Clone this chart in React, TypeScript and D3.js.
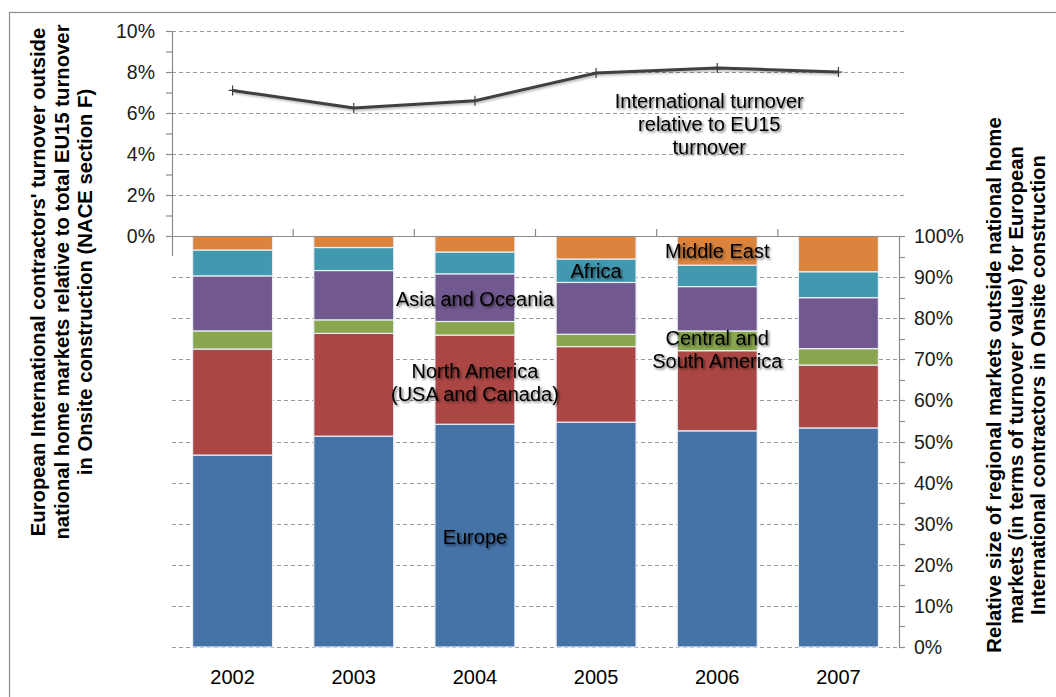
import React, { useEffect, useRef } from 'react';
import * as d3 from 'd3';

// Years on the category axis
const YEARS = ['2002', '2003', '2004', '2005', '2006', '2007'];

// International turnover relative to EU15 turnover (%), left axis
const INTL_SHARE = [7.1, 6.25, 6.6, 7.95, 8.2, 8.0];

// Regional shares (%), right axis, stacked bottom-up
const EUROPE = [46.7, 51.3, 54.2, 54.7, 52.6, 53.3];
const NORTH_AMERICA = [25.8, 25.0, 21.7, 18.4, 19.5, 15.3];
const CENTRAL_SOUTH_AMERICA = [4.4, 3.3, 3.3, 3.0, 4.8, 4.0];
const ASIA_OCEANIA = [13.4, 12.0, 11.6, 12.6, 10.8, 12.4];
const AFRICA = [6.3, 5.6, 5.3, 5.7, 5.2, 6.3];
const MIDDLE_EAST = [3.4, 2.8, 3.9, 5.6, 7.1, 8.7];

const REGIONS = ['Europe', 'North America', 'Central and South America', 'Asia and Oceania', 'Africa', 'Middle East'];
const REGION_VALUES = [EUROPE, NORTH_AMERICA, CENTRAL_SOUTH_AMERICA, ASIA_OCEANIA, AFRICA, MIDDLE_EAST];
const REGION_COLORS = ['#4572A7', '#AA4643', '#89A54E', '#71588F', '#4198AF', '#DB843D'];

const LEFT_TICKS = [0, 2, 4, 6, 8, 10];
const RIGHT_TICKS = [0, 10, 20, 30, 40, 50, 60, 70, 80, 90, 100];

const LEFT_TITLE = [
  "European International contractors' turnover outside",
  'national home markets relative to total EU15 turnover',
  'in Onsite construction (NACE section F)',
];
const RIGHT_TITLE = [
  'Relative size of regional markets outside national home',
  'markets (in terms of turnover value) for European',
  'International contractors in Onsite construction',
];

// in-chart labels: year column, value on the axis, lines
const ANNOTATIONS = [
  { year: '2004', axis: 'right', value: 26.8, dx: 0, lines: ['Europe'] },
  { year: '2004', axis: 'right', value: 64.4, dx: 0, lines: ['North America', '(USA and Canada)'] },
  { year: '2004', axis: 'right', value: 84.7, dx: 0, lines: ['Asia and Oceania'] },
  { year: '2005', axis: 'right', value: 91.5, dx: 0, lines: ['Africa'] },
  { year: '2006', axis: 'right', value: 96.4, dx: 0, lines: ['Middle East'] },
  { year: '2006', axis: 'right', value: 72.5, dx: 0, lines: ['Central and', 'South America'] },
  { year: '2006', axis: 'left', value: 5.45, dx: -8, lines: ['International turnover', 'relative to EU15', 'turnover'] },
];

const W = 1056;
const H = 697;
const FONT = '"Liberation Sans", Arial, sans-serif';

export default function App() {
  const svgRef = useRef<SVGSVGElement>(null);

  useEffect(() => {
    if (!svgRef.current) return;
    const svg = d3.select(svgRef.current);
    svg.selectAll('*').remove();

    const left = 172, right = 899;
    const x = d3.scaleBand<string>().domain(YEARS).range([left, right]).paddingInner(0.34).paddingOuter(0.17);
    const step = x.step();
    const yL = d3.scaleLinear().domain([0, 10]).range([236, 31]);
    const yR = d3.scaleLinear().domain([0, 100]).range([647, 236]);

    const defs = svg.append('defs');
    const f = defs.append('filter').attr('id', 'shadow').attr('x', '-20%').attr('y', '-40%').attr('width', '140%').attr('height', '180%');
    f.append('feDropShadow').attr('dx', 1.5).attr('dy', 1.5).attr('stdDeviation', 1.3)
      .attr('flood-color', '#000').attr('flood-opacity', 0.6);
    const fl = defs.append('filter').attr('id', 'lineShadow').attr('x', '-10%').attr('y', '-50%').attr('width', '120%').attr('height', '200%');
    fl.append('feDropShadow').attr('dx', 1.5).attr('dy', 1.5).attr('stdDeviation', 1.2)
      .attr('flood-color', '#000').attr('flood-opacity', 0.3);

    svg.append('rect').attr('width', W).attr('height', H).attr('fill', '#fff');
    // outer frame
    svg.append('rect').attr('x', 9.5).attr('y', 12.5).attr('width', 1200).attr('height', 900)
      .attr('fill', 'none').attr('stroke', '#8c8c8c').attr('stroke-width', 1.2);

    const grid = svg.append('g').attr('stroke', '#9a9a9a').attr('stroke-width', 1).attr('stroke-dasharray', '4,3');
    LEFT_TICKS.filter(d => d > 0).forEach(d => {
      grid.append('line').attr('x1', left).attr('x2', right + 8).attr('y1', yL(d) + 0.5).attr('y2', yL(d) + 0.5);
    });
    RIGHT_TICKS.filter(d => d < 100).forEach(d => {
      grid.append('line').attr('x1', left).attr('x2', right).attr('y1', Math.round(yR(d)) + 0.5).attr('y2', Math.round(yR(d)) + 0.5);
    });

    // stacked bars
    const rows = YEARS.map((year, i) => {
      const r: Record<string, any> = { year };
      REGIONS.forEach((k, j) => { r[k] = REGION_VALUES[j][i]; });
      return r;
    });
    const series = d3.stack<any>().keys(REGIONS)(rows);
    series.forEach((s, j) => {
      svg.append('g').selectAll('rect').data(s).join('rect')
        .attr('x', d => x(d.data.year)!)
        .attr('width', x.bandwidth())
        .attr('y', d => yR(d[1]))
        .attr('height', d => yR(d[0]) - yR(d[1]))
        .attr('fill', REGION_COLORS[j])
        .attr('stroke', '#e9eef5').attr('stroke-width', 1.2);
    });

    const axisColor = '#8c8c8c';
    const ax = svg.append('g').attr('stroke', axisColor).attr('stroke-width', 1.2);
    // left axis
    ax.append('line').attr('x1', left + 0.5).attr('x2', left + 0.5).attr('y1', yL(10)).attr('y2', 256);
    d3.range(0, 10.5, 1).forEach(d => {
      ax.append('line').attr('x1', left - 6).attr('x2', left).attr('y1', yL(d) + 0.5).attr('y2', yL(d) + 0.5);
    });
    // top chart category axis (0%)
    ax.append('line').attr('x1', left - 6).attr('x2', right + 6).attr('y1', yL(0) + 0.5).attr('y2', yL(0) + 0.5);
    YEARS.slice(1).forEach(yr => {
      const bx = x(yr)! - (step - x.bandwidth()) / 2;
      ax.append('line').attr('x1', bx).attr('x2', bx).attr('y1', yL(0)).attr('y2', yL(0) - 7);
    });
    // right axis
    ax.append('line').attr('x1', right + 0.5).attr('x2', right + 0.5).attr('y1', yR(100)).attr('y2', yR(0));
    d3.range(0, 100.5, 5).forEach(d => {
      ax.append('line').attr('x1', right).attr('x2', right + 6).attr('y1', Math.round(yR(d)) + 0.5).attr('y2', Math.round(yR(d)) + 0.5);
    });

    // tick labels
    svg.append('g').selectAll('text').data(LEFT_TICKS).join('text')
      .attr('x', 155).attr('y', d => yL(d)).attr('dy', '0.36em').attr('text-anchor', 'end')
      .attr('font-family', FONT).attr('font-size', 19.5).attr('fill', '#1a1a1a').text(d => `${d}%`);
    svg.append('g').selectAll('text').data(RIGHT_TICKS).join('text')
      .attr('x', 914).attr('y', d => yR(d)).attr('dy', '0.36em').attr('text-anchor', 'start')
      .attr('font-family', FONT).attr('font-size', 19.5).attr('fill', '#1a1a1a').text(d => `${d}%`);
    svg.append('g').selectAll('text').data(YEARS).join('text')
      .attr('x', d => x(d)! + x.bandwidth() / 2).attr('y', 677).attr('dy', '0.36em').attr('text-anchor', 'middle')
      .attr('font-family', FONT).attr('font-size', 20).attr('fill', '#000').text(d => d);

    // line series
    const cx = (yr: string) => x(yr)! + x.bandwidth() / 2;
    const line = d3.line<number>().x((_, i) => cx(YEARS[i])).y(d => yL(d));
    svg.append('path').datum(INTL_SHARE).attr('d', line).attr('fill', 'none')
      .attr('stroke', '#3f3f3f').attr('stroke-width', 3).attr('filter', 'url(#lineShadow)');
    svg.append('g').selectAll('path').data(INTL_SHARE).join('path')
      .attr('transform', (d, i) => `translate(${cx(YEARS[i])},${yL(d)})`)
      .attr('d', 'M-4,0H4M0,-5V5').attr('stroke', '#3f3f3f').attr('stroke-width', 1.2).attr('fill', 'none');

    // in-chart labels
    ANNOTATIONS.forEach(a => {
      const ax0 = cx(a.year) + a.dx;
      const yc = a.axis === 'left' ? yL(a.value) : yR(a.value);
      const lh = 23;
      const top = yc - (lh * (a.lines.length - 1)) / 2;
      const t = svg.append('text').attr('text-anchor', 'middle')
        .attr('font-family', FONT).attr('font-size', 20).attr('fill', '#000')
        .attr('filter', 'url(#shadow)');
      a.lines.forEach((ln, li) => {
        t.append('tspan').attr('x', ax0).attr('y', top + li * lh).attr('dy', '0.36em').text(ln);
      });
    });

    // axis titles
    const lt = svg.append('text').attr('transform', 'translate(0,282) rotate(-90)').attr('text-anchor', 'middle')
      .attr('font-family', FONT).attr('font-size', 20.3).attr('font-weight', 'bold').attr('fill', '#000');
    LEFT_TITLE.forEach((ln, i) => {
      lt.append('tspan').attr('x', 0).attr('y', 38 + i * 23.5).attr('dy', '0.36em').text(ln);
    });
    const rt = svg.append('text').attr('transform', 'translate(0,385) rotate(-90)').attr('text-anchor', 'middle')
      .attr('font-family', FONT).attr('font-size', 20.3).attr('font-weight', 'bold').attr('fill', '#000');
    RIGHT_TITLE.forEach((ln, i) => {
      rt.append('tspan').attr('x', 0).attr('y', 994 + i * 22).attr('dy', '0.36em').text(ln);
    });
  }, []);

  return (
    <svg ref={svgRef} width={W} height={H} style={{ position: 'absolute', left: 0, top: 0, display: 'block' }} />
  );
}
